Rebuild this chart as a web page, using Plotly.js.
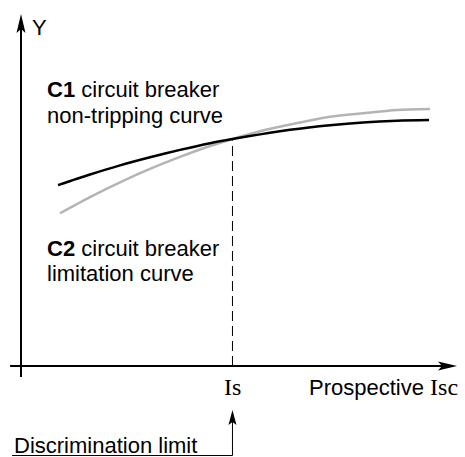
<!DOCTYPE html>
<html><head><meta charset="utf-8">
<script src="https://cdn.plot.ly/plotly-3.0.1.min.js"></script>
<style>html,body{margin:0;padding:0;background:#fff;}#chart{width:465px;height:457px;}</style>
</head><body><div id="chart"></div>
<script>
// Curve C1 (non-tripping) and C2 (limitation), arbitrary units
const c1X = [8.49, 15.83, 22.71, 29.59, 36.47, 43.35, 48.5, 54.82, 61.70, 70.87, 78.44, 86.24, 93.58];
const c1Y = [51.4, 54.4, 57.0, 59.3, 61.4, 63.3, 64.5, 65.8, 67.1, 68.4, 69.2, 69.7, 69.9];
const c2X = [8.94, 15.83, 22.71, 29.59, 36.47, 43.35, 48.5, 54.82, 61.70, 70.87, 78.44, 86.24, 93.81];
const c2Y = [43.4, 48.0, 52.2, 56.0, 59.4, 62.5, 64.5, 66.7, 68.6, 70.8, 71.8, 72.7, 73.0];
const isX = 48.5;      // Is, discrimination limit
const isY = 64.5;      // value where the curves cross
const xAxisEnd = 100, yAxisEnd = 100;
const xAxisStart = -2.5, yAxisStart = -3.1;
const xLabel = 'Prospective <span style="font-family:\'Liberation Serif\',serif;font-size:24px">Isc</span>';
const yLabel = 'Y';
const isLabel = 'Is';
const c1Label = ['<b>C1</b> circuit breaker', 'non-tripping curve'];
const c2Label = ['<b>C2</b> circuit breaker', 'limitation curve'];
const discLabel = 'Discrimination limit';

const F = {family: '"Liberation Sans", Arial, sans-serif', size: 22, color: '#000'};
const FS = {family: '"Liberation Serif", "Times New Roman", serif', size: 24, color: '#000'};

const traces = [
  {x: [isX, isX], y: [0, isY], mode: 'lines', line: {color: '#000', width: 1, dash: '10px,5px'}},
  {x: c2X, y: c2Y, mode: 'lines', line: {color: '#b4b4b4', width: 2.5, shape: 'spline', smoothing: 0.8}},
  {x: c1X, y: c1Y, mode: 'lines', line: {color: '#000', width: 2.5, shape: 'spline', smoothing: 0.8}}
];

const yDisc = -25.43, yDiscTip = -12.5, xDiscStart = -2.06;

const shapes = [
  {type: 'line', x0: xAxisStart, x1: xAxisEnd - 3, y0: 0, y1: 0, line: {color: '#000', width: 2}},
  {type: 'line', x0: 0, x1: 0, y0: yAxisStart, y1: yAxisEnd - 3, line: {color: '#000', width: 2}},
  {type: 'path', xsizemode: 'pixel', ysizemode: 'pixel', xanchor: xAxisEnd, yanchor: 0,
   path: 'M0,0L-19,-4.5L-15,0L-19,4.5Z', fillcolor: '#000', line: {width: 0}},
  {type: 'path', xsizemode: 'pixel', ysizemode: 'pixel', xanchor: 0, yanchor: yAxisEnd,
   path: 'M0,0L-4.5,-19L0,-15L4.5,-19Z', fillcolor: '#000', line: {width: 0}},
  {type: 'line', x0: xDiscStart, x1: isX, y0: yDisc, y1: yDisc, line: {color: '#000', width: 1}},
  {type: 'line', x0: isX, x1: isX, y0: yDisc, y1: yDiscTip - 3, line: {color: '#000', width: 1}},
  {type: 'path', xsizemode: 'pixel', ysizemode: 'pixel', xanchor: isX, yanchor: yDiscTip,
   path: 'M0,0L-4,-15L0,-12L4,-15Z', fillcolor: '#000', line: {width: 0}}
];

function ann(text, x, y, xanchor, font) {
  return {text: text, x: x, y: y, xref: 'x', yref: 'y', xanchor: xanchor, yanchor: 'middle',
          showarrow: false, font: font || F};
}
const annotations = [
  ann(yLabel, 4.13, 96.3, 'center'),
  ann(c1Label[0], 5.5, 78.6, 'left'),
  ann(c1Label[1], 5.5, 71.2, 'left'),
  ann(c2Label[0], 5.5, 33.4, 'left'),
  ann(c2Label[1], 5.5, 26.3, 'left'),
  ann(isLabel, isX, -6.0, 'center', FS),
  ann(xLabel, 65.5, -6.0, 'left'),
  ann(discLabel, xDiscStart, -22.5, 'left')
];

const layout = {
  width: 465, height: 457,
  margin: {l: 0, r: 0, t: 0, b: 0},
  paper_bgcolor: '#fff', plot_bgcolor: '#fff',
  showlegend: false,
  xaxis: {range: [-4.817, 101.83], visible: false, fixedrange: true},
  yaxis: {range: [-25.85, 103.98], visible: false, fixedrange: true},
  shapes: shapes,
  annotations: annotations
};
Plotly.newPlot('chart', traces, layout, {staticPlot: true, displayModeBar: false});
</script>
</body></html>
